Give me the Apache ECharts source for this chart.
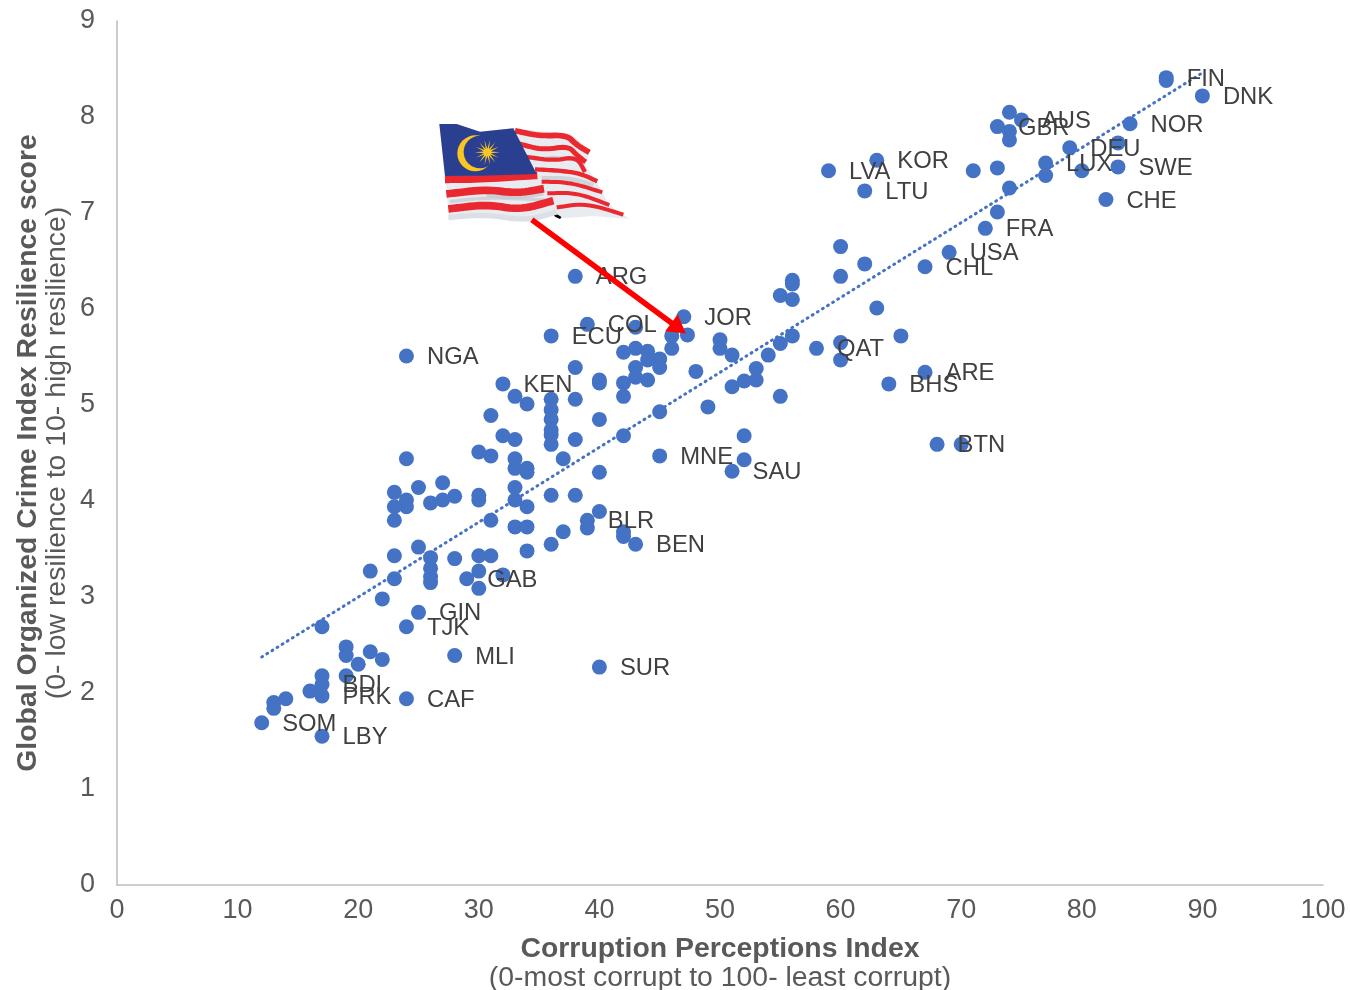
<!DOCTYPE html>
<html><head><meta charset="utf-8">
<style>html,body{margin:0;padding:0;background:#fff}#c{width:1350px;height:990px}</style>
<script src="https://cdn.jsdelivr.net/npm/echarts@6/dist/echarts.min.js"></script>
</head><body><div id="c"></div>
<script>
const labelCodes = ['FIN','DNK','NOR','AUS','GBR','DEU','LUX','SWE','CHE','FRA','USA','CHL','KOR','LVA','LTU','QAT','ARE','BHS','BTN','SAU','ARG','JOR','COL','ECU','KEN','NGA','MNE','BLR','BEN','GAB','GIN','TJK','MLI','BDI','PRK','SOM','LBY','CAF','SUR'];
const labelCpi = [87,90,84,75,73,79,77,83,82,72,69,67,63,59,62,58,67,64,68,51,38,47,39,36,32,24,45,39,43,29,25,24,28,17,17,12,17,24,40];
const labelGoci = [8.41,8.22,7.93,7.97,7.9,7.68,7.52,7.48,7.14,6.84,6.59,6.44,7.55,7.44,7.23,5.59,5.34,5.22,4.59,4.31,6.34,5.92,5.84,5.72,5.22,5.51,4.47,3.8,3.55,3.19,2.84,2.69,2.39,2.09,1.97,1.69,1.55,1.94,2.27];
const otherCpi = [87,74,74,74,83,77,80,71,73,73,74,63,60,60,62,60,55,56,56,56,50,50,51,54,55,56,60,65,70,52,52,51,52,53,53,55,
 43,46,47.3,46,42,43,44,44,45,45,43,43,44,38,40,40,42,42,48,33,34,36,38,36,36,36,36,36,31,40,49,45,
 42,32,33,38,30,31,24,37,33,33,34,34,40,27,25,23,28,30,30,33,33,36,38,24,24,23,26,27,34,40,31,23,39,33,34,42,42,37,
 36,34,25,23,26,26,28,30,31,30,21,23,26,26,32,30,22,17,19,19,20,21,22,19,17,16,14,13,13];
const otherGoci = [8.38,8.05,7.85,7.76,7.73,7.39,7.44,7.44,7.47,7.01,7.26,6.01,6.65,6.34,6.47,5.65,6.14,6.3,6.26,6.1,5.68,5.59,5.52,5.52,5.64,5.72,5.47,5.72,4.59,4.68,4.43,5.19,5.25,5.26,5.38,5.09,
 5.81,5.72,5.73,5.59,5.55,5.59,5.56,5.47,5.48,5.39,5.39,5.29,5.26,5.39,5.26,5.23,5.23,5.09,5.35,5.09,5.01,5.06,5.06,4.95,4.85,4.74,4.69,4.59,4.89,4.85,4.98,4.93,
 4.68,4.68,4.64,4.64,4.51,4.47,4.44,4.44,4.44,4.34,4.34,4.3,4.3,4.19,4.14,4.09,4.05,4.06,4.01,4.14,4.01,4.06,4.06,4.01,3.94,3.94,3.98,4.01,3.94,3.89,3.8,3.8,3.72,3.73,3.73,3.68,3.63,3.68,
 3.55,3.48,3.52,3.43,3.41,3.3,3.4,3.43,3.43,3.27,3.27,3.19,3.21,3.15,3.23,3.09,2.98,2.69,2.48,2.39,2.3,2.43,2.35,2.18,2.18,2.02,1.94,1.9,1.84];
const trendX = [12, 90];
const trendY = [2.375, 8.46];
const arrowX = [34.4, 46.57];
const arrowY = [6.93, 5.80];

const font = '"Liberation Sans", Arial, sans-serif';
const points = labelCpi.map((x,i)=>({value:[x,labelGoci[i]], code:labelCodes[i]}))
  .concat(otherCpi.map((x,i)=>({value:[x,otherGoci[i]], code:''})));

function chaikin(pts,closed,n){
  let p=pts;
  for(let k=0;k<(n||2);k++){
    const out=[];
    if(!closed)out.push(p[0]);
    const m=closed?p.length:p.length-1;
    for(let i=0;i<m;i++){
      const a=p[i],b=p[(i+1)%p.length];
      out.push([a[0]*0.75+b[0]*0.25,a[1]*0.75+b[1]*0.25],[a[0]*0.25+b[0]*0.75,a[1]*0.25+b[1]*0.75]);
    }
    if(!closed)out.push(p[p.length-1]);
    p=out;
  }
  return p;
}
function poly(pts,fill,extra){return Object.assign({type:'polygon',shape:{points:pts},style:{fill:fill}},extra||{});}
function stripe(pts,w,c,op){return {type:'polyline',shape:{points:chaikin(pts,false,3)},style:{stroke:c,lineWidth:w,fill:null,opacity:op==null?1:op,lineJoin:'round',lineCap:'butt'}};}
const starPts=[];for(let i=0;i<28;i++){const a=i*Math.PI/14,r=i%2?11:38;starPts.push([202+r*Math.cos(a),127+r*Math.sin(a)]);}
const red='#E9282F';
const flag={type:'group',x:420,y:110,scaleX:1/3,scaleY:1/3,z:100,children:[
 poly([[395,305],[432,312],[420,327],[405,320]],'#000'),
 poly([[280,55],[360,64],[450,70],[510,122],[495,165],[530,213],[548,250],[570,285],[628,327],[520,318],[430,325],[400,305],[330,335],[220,312],[88,332],[75,200],[58,42],[110,42],[180,65]],'#E8EBF0'),
 stripe([[85,322],[200,314],[320,332],[410,306]],16,'#DCE0E6'),
 stripe([[200,255],[290,262],[370,250]],14,'#C4CAD0',0.8),
 stripe([[90,275],[200,262],[380,270]],10,'#C4CAD0',0.7),
 stripe([[365,205],[450,205],[520,225]],14,'#C4CAD0',0.7),
 stripe([[340,150],[400,140],[470,150]],10,'#C4CAD0',0.7),
 stripe([[75,208],[180,207],[352,196]],23,red),
 stripe([[79,252],[200,238],[290,250],[372,236]],23,red),
 stripe([[85,297],[200,283],[300,300],[400,272]],23,red),
 stripe([[285,62],[360,78],[440,75],[470,105],[508,127]],17,red),
 stripe([[298,102],[370,120],[445,108],[470,135],[497,156]],15,red),
 stripe([[315,140],[400,152],[470,140],[495,186]],13,red),
 stripe([[345,178],[420,182],[480,190],[532,214]],13,red),
 stripe([[365,215],[450,217],[547,247]],12,red),
 stripe([[382,250],[470,248],[568,285]],12,red),
 stripe([[410,292],[500,280],[610,314]],12,red),
 poly([[58,42],[110,42],[180,65],[280,55],[350,192],[180,197],[75,198]],'#2A3F8F'),
 {type:'circle',shape:{cx:166,cy:130,r:54},style:{fill:'#F9C623'}},
 {type:'circle',shape:{cx:180,cy:126,r:49},style:{fill:'#2A3F8F'}},
 poly(starPts,'#F9C623')
]};

const chart = echarts.init(document.getElementById('c'),null,{renderer:'canvas'});
const nameRich={a:{fontSize:28.4,fontWeight:'bold',color:'#595959',fontFamily:font,lineHeight:30},b:{fontSize:28.4,color:'#595959',fontFamily:font,lineHeight:29}};
chart.setOption({
 animation:false,
 backgroundColor:'#fff',
 grid:{left:117,right:27,top:21,bottom:105,outerBoundsMode:'none'},
 xAxis:{type:'value',min:0,max:100,interval:10,
  axisLine:{show:true,onZero:false,lineStyle:{color:'#BFBFBF',width:1.6}},axisTick:{show:false},splitLine:{show:false},
  axisLabel:{color:'#595959',fontSize:27,fontFamily:font,margin:12},
  name:'{a|Corruption Perceptions Index}\n{b|(0-most corrupt to 100- least corrupt)}',
  nameLocation:'middle',nameGap:49,nameMoveOverlap:false,
  nameTextStyle:{rich:nameRich}},
 yAxis:{type:'value',min:0,max:9,interval:1,
  axisLine:{show:true,onZero:false,lineStyle:{color:'#BFBFBF',width:1.6}},axisTick:{show:false},splitLine:{show:false},
  axisLabel:{color:'#595959',fontSize:27,fontFamily:font,margin:22},
  name:'{a|Global Organized Crime Index Resilience score}\n{b|(0- low resilience to 10- high resilience)}',
  nameLocation:'middle',nameGap:45,nameRotate:90,nameMoveOverlap:false,
  nameTextStyle:{rich:nameRich}},
 series:[
  {type:'line',z:1,symbol:'none',silent:true,data:trendX.map((x,i)=>[x,trendY[i]]),
   lineStyle:{color:'#4472C4',width:3,type:[1,5],cap:'round'}},
  {type:'scatter',z:2,symbol:'circle',symbolSize:15,silent:true,data:points,
   itemStyle:{color:'#4472C4',opacity:1},
   label:{show:true,position:'right',distance:13,offset:[0,1.5],color:'#404040',fontSize:23.8,fontFamily:font,formatter:p=>p.data.code}},
  {type:'line',z:5,symbol:'none',data:[],silent:true,
   markLine:{silent:true,animation:false,symbol:['none','triangle'],symbolSize:[21,18],label:{show:false},
    lineStyle:{color:'#FF0000',width:5.5,type:'solid'},
    data:[[{coord:[arrowX[0],arrowY[0]]},{coord:[arrowX[1],arrowY[1]]}]]}}
 ],
 graphic:[flag]
});
</script></body></html>
